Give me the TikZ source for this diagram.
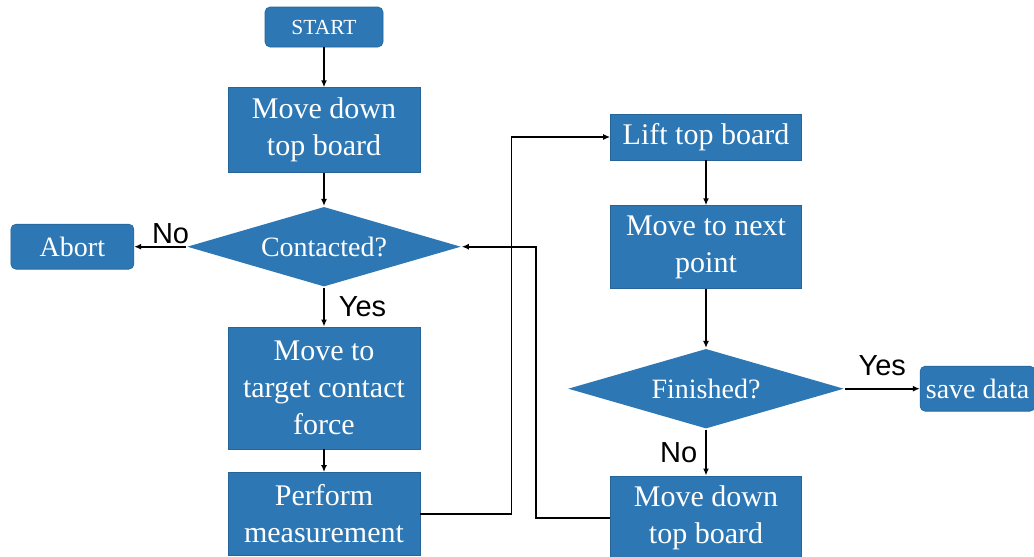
\documentclass[tikz,border=0pt]{standalone}
\usepackage{fontspec}
\setmainfont{Liberation Serif}
\newfontfamily\labelfont{Liberation Sans}
\usetikzlibrary{arrows.meta, positioning, shapes.geometric}
\definecolor{boxblue}{RGB}{44,119,180}

\begin{document}
\begin{tikzpicture}[x=1pt, y=-1pt, >={Latex[length=7pt,width=6pt]}, line width=1.6pt,
  box/.style={fill=boxblue, draw=boxblue!85!black, line width=0.6pt, text=white, align=center, minimum width=192pt, minimum height=84pt, inner sep=2pt, font=\fontsize{30}{37}\selectfont},
  term/.style={box, rounded corners=5pt, minimum height=45pt, font=\fontsize{28}{34}\selectfont},
  decision/.style={diamond, aspect=3.4, fill=boxblue, text=white, inner sep=0pt, minimum width=274pt, minimum height=80pt, font=\fontsize{28}{34}\selectfont},
  lbl/.style={font=\labelfont\fontsize{29}{34}\selectfont, text=black, inner sep=0pt}]

\useasboundingbox (0,0) rectangle (1034,557);

% Nodes
\node (start) [term, minimum width=118pt, minimum height=40pt, font=\fontsize{21.5}{26}\selectfont] at (324,27) {START};
\node (down1) [box, below=40pt of start, minimum height=85pt] {Move down\\top board};
\node (contact) [decision, below=33pt of down1] {Contacted?};
\node (abort) [term, left=52pt of contact, minimum width=123pt] {Abort};
\node (target) [box, below=39pt of contact, minimum height=122pt] {Move to\\target contact\\force};
\node (measure) [box, below=23pt of target, minimum height=83pt] {Perform\\measurement};

\node (lift) [box, minimum width=191pt, minimum height=46pt] at (706,137) {Lift top board};
\node (nextpt) [box, below=45pt of lift, minimum width=191pt, minimum height=83pt] {Move to next\\point};
\node (finish) [decision, below=59pt of nextpt, minimum width=276pt] {Finished?};
\node (save) [term, right=75pt of finish, minimum width=115pt] {save data};
\node (down2) [box, below=46pt of finish, minimum width=191pt, minimum height=84pt] {Move down\\top board};

% Arrows
\draw[->] (start) -- (down1);
\draw[->] (down1) -- (contact);
\draw[->] (contact) -- node[lbl, above=2pt, pos=0.3] {No} (abort);
\draw[->] (contact) -- node[lbl, right=14pt] {Yes} (target);
\draw[->] (target) -- (measure);
\draw[->] (measure.east) -- ++(91,0) |- (lift.west);
\draw[->] (lift) -- (nextpt);
\draw[->] (nextpt) -- (finish);
\draw[->] (finish) -- node[lbl, above=12pt] {Yes} (save);
\draw[->] (finish) -- node[lbl, left=8pt] {No} (down2);
\draw[->] (down2.west) -- ++(-74,0) |- (contact.east);

\end{tikzpicture}
\end{document}
